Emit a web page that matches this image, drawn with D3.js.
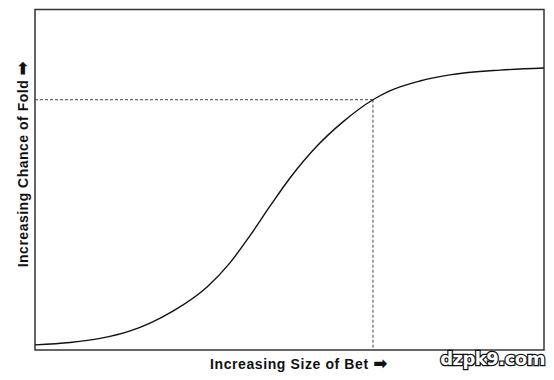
<!DOCTYPE html>
<html>
<head>
<meta charset="utf-8">
<script src="https://cdn.jsdelivr.net/npm/d3@7/dist/d3.min.js"></script>
<style>
html,body{margin:0;padding:0;background:#fff;}
svg{display:block;}
</style>
</head>
<body>
<svg id="chart" width="554" height="380"></svg>
<script>
// Data (chart units 0-100)
const betSize = [0, 6.9, 12.8, 18.7, 22.6, 27.1, 33.8, 38.3, 42.2, 46.2, 50.1, 55.4, 60.5, 66.4, 69.7, 75.6, 81.5, 91.4, 100];
const foldChance = [1.5, 2.2, 3.4, 5.6, 7.9, 11.4, 18.5, 25.6, 33.5, 42.3, 50.5, 59.9, 67.0, 73.5, 76.1, 79.0, 80.8, 82.2, 82.8];
const refPoint = [66.4, 73.5];
const xLabel = "Increasing Size of Bet ";
const yLabel = "Increasing Chance of Fold ";
const arrow = "\u27A1";
const watermark = "dzpk9.com";

const svg = d3.select("#chart");
const m = {left: 35, top: 9.5, right: 544, bottom: 350};
const x = d3.scaleLinear().domain([0, 100]).range([m.left, m.right]);
const y = d3.scaleLinear().domain([0, 100]).range([m.bottom, m.top]);

// frame
svg.append("rect")
  .attr("x", x(0)).attr("y", y(100))
  .attr("width", x(100) - x(0)).attr("height", y(0) - y(100))
  .attr("fill", "none").attr("stroke", "#333").attr("stroke-width", 1.5);

// reference dashed lines
svg.append("line")
  .attr("x1", x(0)).attr("x2", x(refPoint[0]))
  .attr("y1", y(refPoint[1])).attr("y2", y(refPoint[1]))
  .attr("stroke", "#444").attr("stroke-width", 1).attr("stroke-dasharray", "3,2");
svg.append("line")
  .attr("x1", x(refPoint[0])).attr("x2", x(refPoint[0]))
  .attr("y1", y(refPoint[1])).attr("y2", y(0))
  .attr("stroke", "#444").attr("stroke-width", 1).attr("stroke-dasharray", "3,2");

// curve
const pts = betSize.map((d, i) => [d, foldChance[i]]);
svg.append("path")
  .datum(pts)
  .attr("fill", "none").attr("stroke", "#111").attr("stroke-width", 1.4)
  .attr("d", d3.line().x(d => x(d[0])).y(d => y(d[1])).curve(d3.curveMonotoneX));

// axis labels
const xt = svg.append("text")
  .attr("x", 299).attr("y", 369)
  .attr("text-anchor", "middle")
  .attr("font-family", "Liberation Sans, Arial, sans-serif")
  .attr("font-weight", "bold").attr("font-size", 14)
  .attr("letter-spacing", 0.6)
  .attr("fill", "#111");
xt.append("tspan").text(xLabel);
xt.append("tspan").attr("font-family", "DejaVu Sans, sans-serif").attr("font-size", 17).text(arrow);

const yt = svg.append("text")
  .attr("transform", "translate(28,164) rotate(-90)")
  .attr("text-anchor", "middle")
  .attr("font-family", "Liberation Sans, Arial, sans-serif")
  .attr("font-weight", "bold").attr("font-size", 14)
  .attr("letter-spacing", 0.5)
  .attr("fill", "#111");
yt.append("tspan").text(yLabel);
yt.append("tspan").attr("font-family", "DejaVu Sans, sans-serif").attr("font-size", 17).text(arrow);

// watermark
svg.append("text")
  .attr("x", 545).attr("y", 365)
  .attr("text-anchor", "end")
  .attr("font-family", "DejaVu Sans, sans-serif")
  .attr("font-weight", "bold").attr("font-size", 18)
  .attr("fill", "#fff").attr("stroke", "#111").attr("stroke-width", 2.5)
  .attr("paint-order", "stroke")
  .attr("letter-spacing", -0.5)
  .text(watermark);
</script>
</body>
</html>
